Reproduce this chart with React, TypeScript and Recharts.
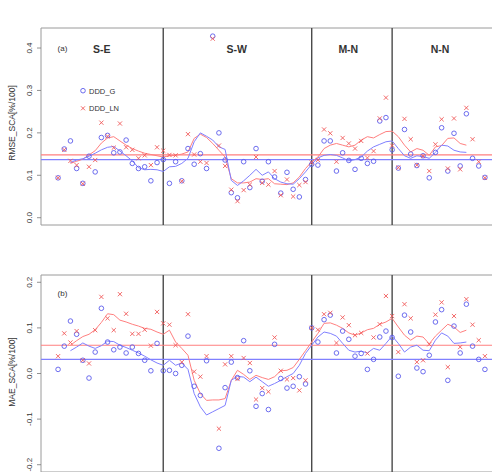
import React from 'react';
import { ComposedChart, Scatter, Line, XAxis, YAxis, ReferenceLine, ReferenceArea } from 'recharts';

// ---------- data ----------
const stations: number[] = Array.from({ length: 70 }, (_, k) => k + 1);
const regionBounds = [18, 42, 55];
const regionNames = ['S-E', 'S-W', 'M-N', 'N-N'];
const seriesNames = ['DDD_G', 'DDD_LN'];
const smoothStart = 3;

const rmseG: (number | null)[] = [
  0.094, 0.162, 0.181, 0.116, 0.081, 0.145, 0.108, 0.189, 0.194, 0.153,
  0.155, 0.183, 0.128, 0.116, 0.120, 0.087, 0.130, 0.137, 0.081, 0.132,
  0.087, 0.163, 0.126, 0.151, 0.116, 0.428, 0.200, 0.136, 0.059, 0.047,
  0.132, 0.071, 0.163, 0.086, 0.132, 0.096, 0.058, 0.107, 0.067, 0.049,
  0.090, 0.126, 0.124, 0.181, 0.181, 0.110, 0.153, 0.135, 0.114, 0.140,
  0.128, 0.133, 0.228, 0.236, 0.160, 0.117, 0.208, 0.150, 0.123, 0.146,
  0.094, 0.154, 0.212, 0.110, 0.199, 0.122, 0.245, 0.140, 0.122, 0.095,
];
const rmseLN: (number | null)[] = [
  0.094, 0.160, 0.134, 0.124, 0.080, 0.120, 0.136, 0.224, 0.192, 0.165,
  0.222, 0.166, 0.160, 0.140, 0.147, 0.124, 0.166, 0.158, 0.148, 0.147,
  0.086, 0.197, 0.149, 0.132, 0.129, 0.422, 0.170, 0.122, 0.066, 0.039,
  0.065, 0.078, 0.143, 0.082, 0.078, 0.110, 0.053, 0.090, 0.050, 0.077,
  0.084, 0.130, 0.136, 0.208, 0.199, 0.132, 0.188, 0.175, 0.163, 0.181,
  0.141, 0.157, 0.234, 0.283, 0.170, 0.118, 0.233, 0.185, 0.124, 0.145,
  0.110, 0.173, 0.232, 0.116, 0.234, 0.114, 0.259, 0.185, 0.132, 0.094,
];
const maeG: (number | null)[] = [
  0.009, 0.060, 0.115, 0.086, 0.029, -0.010, 0.047, 0.143, 0.069, 0.052,
  0.058, 0.045, 0.058, 0.044, 0.029, 0.006, 0.066, 0.006, 0.007, 0.000,
  0.018, 0.082, -0.028, -0.048, 0.028, null, -0.164, -0.031, 0.025, -0.009,
  0.072, 0.006, -0.072, -0.044, -0.079, 0.064, -0.011, -0.032, -0.028, -0.007,
  -0.023, 0.100, 0.069, 0.118, 0.128, 0.045, 0.093, 0.075, 0.038, 0.044,
  0.009, 0.031, 0.080, 0.093, 0.079, -0.006, 0.128, 0.091, 0.012, 0.004,
  0.040, 0.113, 0.140, -0.015, 0.104, 0.045, 0.152, 0.060, 0.031, 0.009,
];
const maeLN: (number | null)[] = [
  0.038, 0.088, 0.068, 0.093, 0.029, 0.022, 0.095, 0.168, 0.121, 0.095,
  0.174, 0.131, 0.087, 0.087, 0.096, 0.061, 0.135, 0.110, 0.107, 0.062,
  0.025, 0.130, 0.004, -0.007, 0.038, null, -0.121, 0.020, 0.038, -0.012,
  0.034, 0.023, -0.057, -0.032, -0.040, 0.079, 0.006, -0.013, -0.010, -0.037,
  -0.015, 0.100, 0.096, 0.130, 0.133, 0.067, 0.123, 0.106, 0.084, 0.089,
  0.044, 0.079, 0.108, 0.170, 0.126, 0.047, 0.152, 0.121, 0.025, 0.029,
  0.064, 0.129, 0.156, 0.014, 0.126, 0.058, 0.163, 0.107, 0.073, 0.038,
];

// running smooth curves (stations 3..67)
const rmseSmoothLN = [
  0.128, 0.133, 0.138, 0.148, 0.158, 0.176, 0.188, 0.191, 0.181, 0.171,
  0.163, 0.157, 0.152, 0.149, 0.146, 0.143, 0.146, 0.147, 0.150, 0.155,
  0.187, 0.197, 0.189, 0.175, 0.159, 0.143, 0.092, 0.082, 0.082, 0.084,
  0.092, 0.090, 0.092, 0.080, 0.079, 0.078, 0.082, 0.096, 0.116, 0.132,
  0.143, 0.163, 0.171, 0.175, 0.171, 0.167, 0.171, 0.183, 0.191, 0.188,
  0.196, 0.203, 0.204, 0.191, 0.171, 0.155, 0.163, 0.159, 0.147, 0.167,
  0.170, 0.187, 0.188, 0.175, 0.171,
];
const rmseSmoothG = [
  0.130, 0.136, 0.139, 0.145, 0.152, 0.160, 0.166, 0.168, 0.157, 0.146,
  0.134, 0.118, 0.113, 0.114, 0.113, 0.109, 0.120, 0.121, 0.128, 0.140,
  0.179, 0.200, 0.192, 0.183, 0.167, 0.161, 0.088, 0.076, 0.087, 0.100,
  0.114, 0.100, 0.108, 0.092, 0.084, 0.080, 0.079, 0.092, 0.108, 0.126,
  0.141, 0.147, 0.149, 0.147, 0.141, 0.134, 0.137, 0.143, 0.157, 0.167,
  0.173, 0.179, 0.181, 0.163, 0.146, 0.140, 0.146, 0.144, 0.140, 0.154,
  0.171, 0.169, 0.159, 0.155, 0.154,
];
const maeSmoothLN = [
  0.062, 0.072, 0.081, 0.086, 0.096, 0.112, 0.131, 0.129, 0.117, 0.113,
  0.108, 0.104, 0.099, 0.097, 0.091, 0.086, 0.095, 0.069, 0.055, 0.040,
  -0.015, -0.044, -0.059, -0.058, -0.058, -0.055, -0.015, 0.007, -0.002, -0.013,
  -0.004, -0.009, -0.013, -0.007, 0.006, 0.007, 0.013, 0.031, 0.050, 0.069,
  0.088, 0.110, 0.111, 0.106, 0.099, 0.089, 0.084, 0.089, 0.096, 0.099,
  0.108, 0.113, 0.121, 0.102, 0.084, 0.073, 0.082, 0.080, 0.065, 0.082,
  0.095, 0.108, 0.102, 0.090, 0.095,
];
const maeSmoothG = [
  0.050, 0.058, 0.067, 0.060, 0.055, 0.061, 0.071, 0.070, 0.062, 0.057,
  0.051, 0.045, 0.038, 0.030, 0.023, 0.018, 0.029, 0.018, 0.023, 0.009,
  -0.044, -0.073, -0.091, -0.084, -0.077, -0.070, -0.015, -0.006, -0.008, -0.018,
  -0.008, -0.018, -0.028, -0.022, -0.015, -0.007, 0.000, 0.018, 0.044, 0.062,
  0.080, 0.091, 0.088, 0.082, 0.066, 0.051, 0.047, 0.049, 0.045, 0.055,
  0.051, 0.066, 0.082, 0.066, 0.047, 0.058, 0.062, 0.051, 0.050, 0.073,
  0.089, 0.082, 0.066, 0.067, 0.069,
];

const rmseMeanG = 0.137;
const rmseMeanLN = 0.148;
const maeMeanG = 0.031;
const maeMeanLN = 0.062;

const rmseTicks = [0, 0.1, 0.2, 0.3, 0.4];
const maeTicks = [-0.2, -0.1, 0, 0.1, 0.2];

// ---------- styling ----------
const FONT = '"Liberation Sans", Arial, Helvetica, sans-serif';
const BLUE_PT = '#5c5cec';
const RED_PT = '#f05a5a';
const BLUE_LN = '#8080ff';
const RED_LN = '#ff7f7f';
const SEP = '#4a4a4a';
const BOX = '#9a9a9a';
const TXT = '#333333';

const X_DOMAIN: [number, number] = [-1.76, 72.76];
const CHART_W = 502;

const toPts = (vals: (number | null)[]) =>
  stations
    .map((s, k) => ({ x: s, y: vals[k] }))
    .filter((p) => p.y !== null && p.y !== undefined);

const toLine = (vals: number[]) => vals.map((v, k) => ({ x: smoothStart + k, y: v }));

const Circle = (props: any) => {
  const { cx, cy } = props;
  if (cx == null || cy == null) return null;
  return <circle cx={cx} cy={cy} r={2.3} fill="none" stroke={BLUE_PT} strokeWidth={0.9} />;
};
const Cross = (props: any) => {
  const { cx, cy } = props;
  if (cx == null || cy == null) return null;
  const d = 2.1;
  return (
    <path
      d={`M${cx - d} ${cy - d}L${cx + d} ${cy + d}M${cx - d} ${cy + d}L${cx + d} ${cy - d}`}
      stroke={RED_PT}
      strokeWidth={0.9}
      fill="none"
    />
  );
};

const makeTick = () => (props: any) => {
  const { y, payload } = props;
  const v = Number(payload.value);
  const label = (Math.abs(v) < 1e-9 ? 0 : v).toFixed(1);
  return (
    <text
      x={32}
      y={y}
      transform={`rotate(-90, 32, ${y})`}
      textAnchor="middle"
      fontSize={8}
      fontFamily={FONT}
      fill={TXT}
    >
      {label}
    </text>
  );
};

interface PanelProps {
  g: (number | null)[];
  ln: (number | null)[];
  gSmooth: number[];
  lnSmooth: number[];
  gMean: number;
  lnMean: number;
  yDomain: [number, number];
  ticks: number[];
  height: number;
  margin: { top: number; bottom: number };
}

function Panel(p: PanelProps) {
  return (
    <ComposedChart
      width={CHART_W}
      height={p.height}
      margin={{ top: p.margin.top, right: 0, bottom: p.margin.bottom, left: 0 }}
    >
      <XAxis type="number" dataKey="x" domain={X_DOMAIN} hide allowDataOverflow />
      <YAxis
        type="number"
        dataKey="y"
        domain={p.yDomain}
        ticks={p.ticks}
        width={41}
        axisLine={false}
        tickLine={{ stroke: '#777', strokeWidth: 0.8 }}
        tickSize={4}
        tick={makeTick()}
        allowDataOverflow
        interval={0}
      />
      <ReferenceArea
        x1={X_DOMAIN[0]}
        x2={X_DOMAIN[1]}
        y1={p.yDomain[0]}
        y2={p.yDomain[1]}
        fill="none"
        fillOpacity={0}
        stroke={BOX}
        strokeWidth={1}
        ifOverflow="visible"
      />
      {regionBounds.map((b) => (
        <ReferenceLine key={b} x={b} stroke={SEP} strokeWidth={1.4} />
      ))}
      <ReferenceLine y={p.lnMean} stroke={RED_LN} strokeWidth={1.2} />
      <ReferenceLine y={p.gMean} stroke={BLUE_LN} strokeWidth={1.2} />
      <Scatter data={toPts(p.g)} dataKey="y" shape={Circle} isAnimationActive={false} />
      <Scatter data={toPts(p.ln)} dataKey="y" shape={Cross} isAnimationActive={false} />
      <Line
        data={toLine(p.lnSmooth)}
        dataKey="y"
        type="linear"
        stroke={RED_LN}
        strokeWidth={1}
        dot={false}
        activeDot={false}
        isAnimationActive={false}
      />
      <Line
        data={toLine(p.gSmooth)}
        dataKey="y"
        type="linear"
        stroke={BLUE_LN}
        strokeWidth={1}
        dot={false}
        activeDot={false}
        isAnimationActive={false}
      />
    </ComposedChart>
  );
}

export default function App() {
  const regionX = [101.7, 236.7, 348.3, 440];
  return (
    <div
      style={{
        position: 'absolute',
        left: 0,
        top: 0,
        width: 492,
        height: 472,
        overflow: 'hidden',
        background: '#ffffff',
      }}
    >
      <div style={{ position: 'absolute', left: 0, top: 0 }}>
        <Panel
          g={rmseG}
          ln={rmseLN}
          gSmooth={rmseSmoothG}
          lnSmooth={rmseSmoothLN}
          gMean={rmseMeanG}
          lnMean={rmseMeanLN}
          yDomain={[-0.0172, 0.4472]}
          ticks={rmseTicks}
          height={240}
          margin={{ top: 28, bottom: 15 }}
        />
      </div>
      <div style={{ position: 'absolute', left: 0, top: 240 }}>
        <Panel
          g={maeG}
          ln={maeLN}
          gSmooth={maeSmoothG}
          lnSmooth={maeSmoothLN}
          gMean={maeMeanG}
          lnMean={maeMeanLN}
          yDomain={[-0.216, 0.216]}
          ticks={maeTicks}
          height={232}
          margin={{ top: 35, bottom: 0 }}
        />
      </div>
      <svg
        width={492}
        height={472}
        style={{ position: 'absolute', left: 0, top: 0, pointerEvents: 'none' }}
        fontFamily={FONT}
      >
        <text x={15} y={123} transform="rotate(-90, 15, 123)" textAnchor="middle" fontSize={8.5} fill={TXT}>
          RMSE_SCA[%/100]
        </text>
        <text x={15} y={372} transform="rotate(-90, 15, 372)" textAnchor="middle" fontSize={8.5} fill={TXT}>
          MAE_SCA[%/100]
        </text>
        <text x={62.5} y={51} textAnchor="middle" fontSize={8} fill={TXT}>(a)</text>
        <text x={62.5} y={296} textAnchor="middle" fontSize={8} fill={TXT}>(b)</text>
        {regionNames.map((n, k) => (
          <text key={n} x={regionX[k]} y={53} textAnchor="middle" fontSize={10.5} fontWeight="bold" fill={TXT}>
            {n}
          </text>
        ))}
        <circle cx={83} cy={90.7} r={2.3} fill="none" stroke={BLUE_PT} strokeWidth={0.9} />
        <text x={89} y={93.5} fontSize={7.5} fill={TXT}>{seriesNames[0]}</text>
        <path d="M81 106.3L85 110.3M81 110.3L85 106.3" stroke={RED_PT} strokeWidth={0.9} />
        <text x={89} y={111} fontSize={7.5} fill={TXT}>{seriesNames[1]}</text>
      </svg>
    </div>
  );
}
